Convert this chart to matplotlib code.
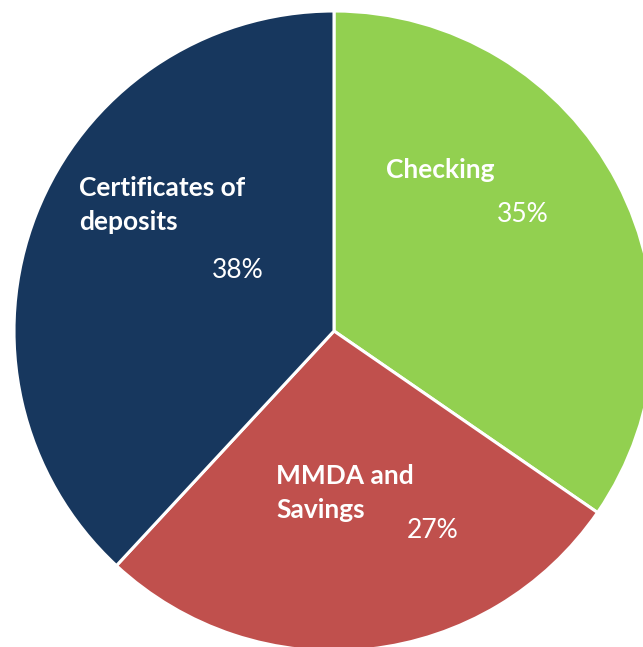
import matplotlib.pyplot as plt

labels = ['Checking', 'MMDA and\nSavings', 'Certificates of\ndeposits']
# wedge sizes; labels show the rounded values
shares = [34.6, 27.3, 38.1]
pct_labels = ['35%', '27%', '38%']
colors = ['#92D050', '#C0504D', '#17375E']

# label / percent placement in pixel coords of the picture (x, y from top-left)
name_pos = [(386, 170), (276, 493), (79, 205)]
pct_pos = [(523, 214), (433, 531), (238, 270)]

W, H = 643, 647
cx, cy, r = 334, 331, 320

fig = plt.figure(figsize=(W / 100, H / 100), dpi=100)
ax = fig.add_axes([0, 0, 1, 1])
ax.pie(shares, colors=colors, startangle=90, counterclock=False,
       wedgeprops=dict(edgecolor='white', linewidth=2.2))
ax.set_aspect('auto')
ax.set_xlim(-cx / r, (W - cx) / r)
ax.set_ylim(-(H - cy) / r, cy / r)
ax.axis('off')


def to_data(px, py):
    return (px - cx) / r, (cy - py) / r


for lab, (px, py) in zip(labels, name_pos):
    x, y = to_data(px, py)
    ax.text(x, y, lab, color='white', fontsize=19, fontweight='bold',
            family='Lato', ha='left', va='center', linespacing=1.55)

for lab, (px, py) in zip(pct_labels, pct_pos):
    x, y = to_data(px, py)
    ax.text(x, y, lab, color='white', fontsize=19, family='Lato',
            ha='center', va='center')

fig.savefig('out.png', dpi=100)
